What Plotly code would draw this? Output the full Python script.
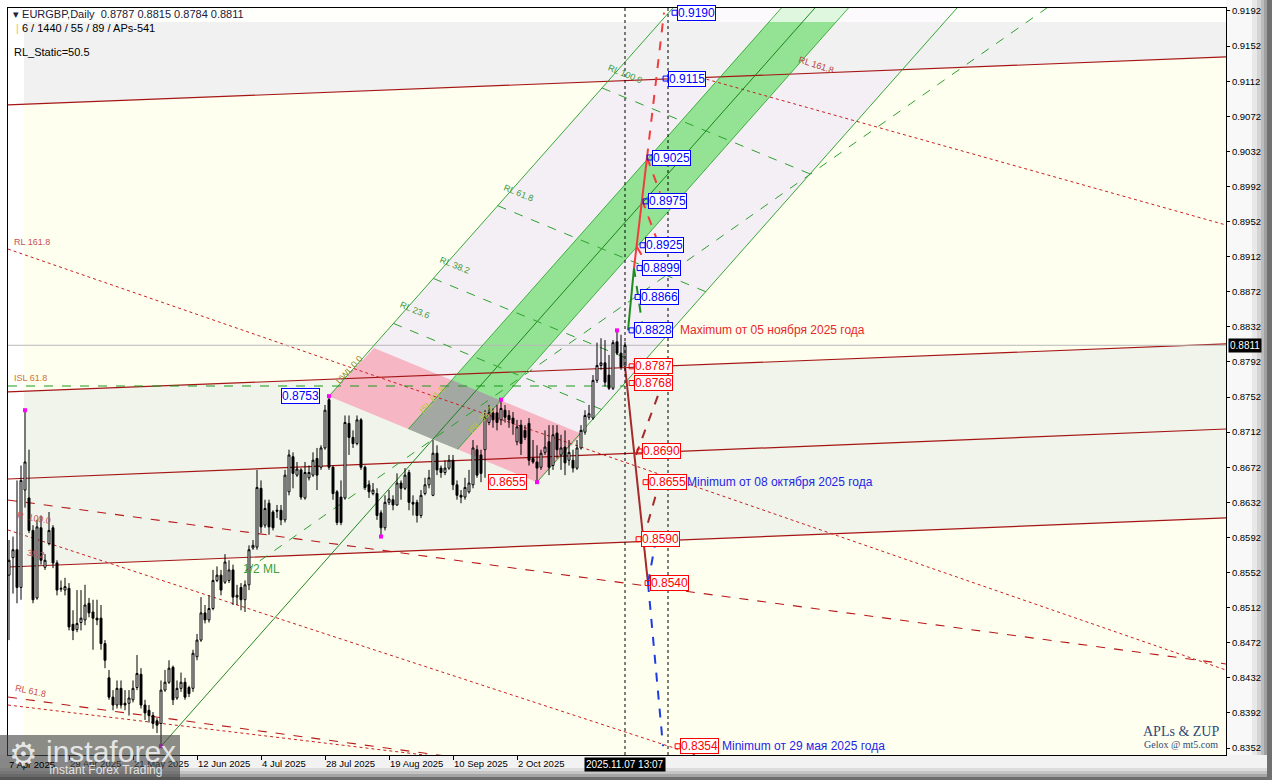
import plotly.graph_objects as go

# ---------------- candle data (EURGBP daily, bar index 0 = first visible bar) -------------
opens = [0.8549,0.8569,0.8578,0.8535,0.8646,0.8637,0.8600,0.8523,0.8603,0.8558,
         0.8585,0.8603,0.8563,0.8533,0.8532,0.8534,0.8493,0.8487,0.8495,0.8498,
         0.8517,0.8507,0.8500,0.8500,0.8471,0.8432,0.8410,0.8401,0.8420,0.8403,
         0.8403,0.8407,0.8421,0.8436,0.8401,0.8395,0.8389,0.8383,0.8380,0.8418,
         0.8427,0.8444,0.8409,0.8420,0.8427,0.8421,0.8420,0.8456,0.8475,0.8506,
         0.8498,0.8511,0.8543,0.8549,0.8541,0.8543,0.8555,0.8524,0.8535,0.8521,
         0.8538,0.8580,0.8581,0.8648,0.8606,0.8631,0.8621,0.8623,0.8623,0.8612,
         0.8644,0.8684,0.8663,0.8669,0.8637,0.8660,0.8663,0.8682,0.8672,0.8694,
         0.8749,0.8672,0.8644,0.8638,0.8637,0.8722,0.8706,0.8699,0.8726,0.8672,
         0.8652,0.8642,0.8642,0.8620,0.8603,0.8632,0.8635,0.8629,0.8654,0.8648,
         0.8666,0.8632,0.8632,0.8617,0.8642,0.8652,0.8640,0.8688,0.8671,0.8666,
         0.8671,0.8680,0.8652,0.8640,0.8638,0.8644,0.8652,0.8692,0.8686,0.8692,
         0.8723,0.8734,0.8734,0.8726,0.8737,0.8731,0.8728,0.8701,0.8720,0.8714,
         0.8722,0.8682,0.8678,0.8672,0.8689,0.8701,0.8674,0.8711,0.8686,0.8695,
         0.8680,0.8680,0.8671,0.8694,0.8712,0.8729,0.8728,0.8771,0.8788,0.8791,
         0.8777,0.8762,0.8815,0.8802,0.8787]
highs = [0.8589,0.8593,0.8657,0.8674,0.8737,0.8692,0.8606,0.8612,0.8617,0.8573,
         0.8621,0.8606,0.8566,0.8543,0.8546,0.8540,0.8509,0.8532,0.8532,0.8538,
         0.8523,0.8521,0.8521,0.8515,0.8475,0.8441,0.8418,0.8429,0.8429,0.8418,
         0.8418,0.8429,0.8458,0.8443,0.8407,0.8401,0.8393,0.8386,0.8429,0.8441,
         0.8452,0.8446,0.8429,0.8438,0.8432,0.8423,0.8464,0.8482,0.8524,0.8515,
         0.8526,0.8555,0.8559,0.8555,0.8573,0.8566,0.8561,0.8538,0.8540,0.8543,
         0.8583,0.8589,0.8669,0.8657,0.8635,0.8635,0.8623,0.8629,0.8629,0.8669,
         0.8692,0.8689,0.8678,0.8671,0.8678,0.8674,0.8689,0.8694,0.8697,0.8743,
         0.8753,0.8674,0.8646,0.8657,0.8731,0.8731,0.8714,0.8731,0.8728,0.8674,
         0.8657,0.8654,0.8648,0.8623,0.8640,0.8646,0.8640,0.8665,0.8657,0.8671,
         0.8669,0.8640,0.8635,0.8646,0.8660,0.8669,0.8703,0.8697,0.8674,0.8680,
         0.8686,0.8686,0.8657,0.8646,0.8660,0.8669,0.8703,0.8697,0.8692,0.8737,
         0.8743,0.8739,0.8743,0.8749,0.8743,0.8737,0.8735,0.8726,0.8726,0.8720,
         0.8728,0.8703,0.8697,0.8692,0.8714,0.8720,0.8720,0.8720,0.8709,0.8714,
         0.8703,0.8692,0.8703,0.8720,0.8737,0.8743,0.8777,0.8814,0.8819,0.8817,
         0.8800,0.8817,0.8828,0.8823,0.8815]
lows = [0.8475,0.8528,0.8517,0.8521,0.8626,0.8597,0.8517,0.8521,0.8561,0.8555,
        0.8583,0.8557,0.8526,0.8530,0.8526,0.8486,0.8475,0.8484,0.8486,0.8492,
        0.8501,0.8464,0.8492,0.8464,0.8443,0.8407,0.8395,0.8397,0.8397,0.8395,
        0.8389,0.8404,0.8418,0.8397,0.8384,0.8381,0.8374,0.8369,0.8354,0.8416,
        0.8425,0.8401,0.8407,0.8416,0.8407,0.8410,0.8416,0.8452,0.8473,0.8494,
        0.8495,0.8509,0.8541,0.8526,0.8539,0.8540,0.8515,0.8515,0.8509,0.8507,
        0.8532,0.8578,0.8578,0.8597,0.8603,0.8595,0.8600,0.8614,0.8606,0.8609,
        0.8640,0.8648,0.8661,0.8635,0.8635,0.8657,0.8661,0.8646,0.8669,0.8692,
        0.8669,0.8635,0.8606,0.8606,0.8635,0.8686,0.8694,0.8697,0.8669,0.8646,
        0.8637,0.8640,0.8612,0.8593,0.8600,0.8629,0.8623,0.8628,0.8635,0.8646,
        0.8623,0.8617,0.8609,0.8614,0.8640,0.8648,0.8639,0.8663,0.8660,0.8663,
        0.8669,0.8646,0.8635,0.8631,0.8635,0.8642,0.8648,0.8660,0.8655,0.8660,
        0.8720,0.8717,0.8714,0.8720,0.8723,0.8717,0.8709,0.8697,0.8686,0.8703,
        0.8674,0.8676,0.8655,0.8669,0.8686,0.8663,0.8669,0.8682,0.8669,0.8663,
        0.8674,0.8666,0.8669,0.8692,0.8709,0.8726,0.8726,0.8768,0.8783,0.8764,
        0.8760,0.8760,0.8800,0.8783,0.8784]
closes = [0.8566,0.8578,0.8535,0.8657,0.8678,0.8600,0.8521,0.8604,0.8566,0.8566,
          0.8600,0.8563,0.8532,0.8534,0.8536,0.8490,0.8486,0.8494,0.8500,0.8515,
          0.8506,0.8500,0.8498,0.8471,0.8452,0.8410,0.8401,0.8420,0.8401,0.8401,
          0.8409,0.8420,0.8437,0.8401,0.8392,0.8389,0.8380,0.8378,0.8418,0.8427,
          0.8443,0.8407,0.8420,0.8427,0.8410,0.8414,0.8460,0.8475,0.8506,0.8498,
          0.8511,0.8543,0.8549,0.8532,0.8564,0.8555,0.8524,0.8526,0.8521,0.8538,
          0.8578,0.8583,0.8649,0.8604,0.8625,0.8604,0.8603,0.8622,0.8612,0.8663,
          0.8686,0.8665,0.8670,0.8638,0.8666,0.8666,0.8680,0.8663,0.8694,0.8737,
          0.8672,0.8642,0.8609,0.8609,0.8723,0.8706,0.8699,0.8726,0.8672,0.8649,
          0.8644,0.8646,0.8617,0.8603,0.8632,0.8636,0.8629,0.8654,0.8648,0.8663,
          0.8632,0.8630,0.8617,0.8640,0.8652,0.8660,0.8688,0.8669,0.8666,0.8671,
          0.8680,0.8652,0.8640,0.8638,0.8649,0.8654,0.8694,0.8663,0.8665,0.8729,
          0.8734,0.8726,0.8723,0.8739,0.8729,0.8726,0.8722,0.8718,0.8699,0.8706,
          0.8680,0.8678,0.8671,0.8688,0.8695,0.8672,0.8709,0.8692,0.8694,0.8677,
          0.8689,0.8671,0.8694,0.8714,0.8731,0.8733,0.8771,0.8788,0.8791,0.8769,
          0.8762,0.8814,0.8802,0.8786,0.8811]

x_tick_index = [15, 31, 47, 63, 79, 95, 111, 127]
x_tick_text = ["29 Apr 2025", "21 May 2025", "12 Jun 2025", "4 Jul 2025", "28 Jul 2025",
               "19 Aug 2025", "10 Sep 2025", "2 Oct 2025"]
first_label = "7 Apr 2025"
y_tick_vals = [0.8352, 0.8392, 0.8432, 0.8472, 0.8512, 0.8552, 0.8592, 0.8632, 0.8672, 0.8712,
               0.8752, 0.8792, 0.8832, 0.8872, 0.8912, 0.8952, 0.8992, 0.9032, 0.9072, 0.9112,
               0.9152, 0.9192]
last_price = 0.8811
last_bar_label = "2025.11.07 13:07"

# pitchfork pivots (bar index, price)
pivot_A = (38, 0.8354)
pivot_B = (80, 0.8753)
pivot_C = (132, 0.8655)
rl_levels = [0.236, 0.382, 0.618, 1.0]
rl_names = ["RL 23.6", "RL 38.2", "RL 61.8", "RL 100.0"]
band_levels = [0.382, 0.618]
pink_shift = (11.25, 0.0055)

# slanted red channel (price at left edge / right edge)
red_left = [0.90849, 0.87578, 0.86586, 0.85583]
red_right = [0.91396, 0.88125, 0.87156, 0.86142]

# forecast (ZUP) levels
blue_levels = [0.9190, 0.9115, 0.9025, 0.8975, 0.8925, 0.8899, 0.8866, 0.8828]
blue_pos = [167.0, 164.75, 160.75, 159.75, 159.0, 158.25, 157.75, 156.25]
red_levels = [0.8787, 0.8768, 0.8690, 0.8655, 0.8590, 0.8540, 0.8354]
red_pos = [156.25, 156.25, 158.25, 159.75, 158.0, 160.25, 167.75]

X0, X1 = -0.25, 304.25
Y0, Y1 = 0.834405, 0.91954
ZONE_X0 = 3.75
ZONE_TOP = 0.91795

fig = go.Figure()
shapes = []


def sline(p, q, color, width=1.0, dash="solid"):
    shapes.append(dict(type="line", xref="x", yref="y", x0=p[0], y0=p[1], x1=q[0], y1=q[1],
                       line=dict(color=color, width=width, dash=dash), layer="below"))


def spoly(pts, color):
    path = "M " + " L ".join(f"{p[0]:.4f},{p[1]:.6f}" for p in pts) + " Z"
    shapes.append(dict(type="path", xref="x", yref="y", path=path, fillcolor=color,
                       line=dict(width=0), layer="below"))


def tline(p, q, color, width=1.0, dash="solid"):
    fig.add_trace(go.Scatter(x=[p[0], q[0]], y=[p[1], q[1]], mode="lines",
                             line=dict(color=color, width=width, dash=dash),
                             hoverinfo="skip", showlegend=False))


def add(p, q, k=1.0):
    return (p[0] + k * q[0], p[1] + k * q[1])


def sub(p, q):
    return (p[0] - q[0], p[1] - q[1])


def clip(subject, clipper):
    def inside(p, a, b):
        return (b[0] - a[0]) * (p[1] - a[1]) - (b[1] - a[1]) * (p[0] - a[0]) >= 0

    def inter(p1, p2, a, b):
        x1, y1 = p1; x2, y2 = p2; x3, y3 = a; x4, y4 = b
        d = (x1 - x2) * (y3 - y4) - (y1 - y2) * (x3 - x4)
        t = ((x1 - x3) * (y3 - y4) - (y1 - y3) * (x3 - x4)) / d
        return (x1 + t * (x2 - x1), y1 + t * (y2 - y1))

    out = subject
    for i in range(len(clipper)):
        a, b = clipper[i], clipper[(i + 1) % len(clipper)]
        inp, out = out, []
        for j in range(len(inp)):
            cur, prev = inp[j], inp[j - 1]
            if inside(cur, a, b):
                if not inside(prev, a, b):
                    out.append(inter(prev, cur, a, b))
                out.append(cur)
            elif inside(prev, a, b):
                out.append(inter(prev, cur, a, b))
    return out


def orient_ccw(pts):
    area = sum(pts[i][0] * pts[(i + 1) % len(pts)][1] - pts[(i + 1) % len(pts)][0] * pts[i][1]
               for i in range(len(pts)))
    return pts if area > 0 else pts[::-1]


def red_at(k, x):
    return red_left[k] + (red_right[k] - red_left[k]) * (x - X0) / (X1 - X0)


# pitchfork geometry
mid = ((pivot_B[0] + pivot_C[0]) / 2, (pivot_B[1] + pivot_C[1]) / 2)
mid_ab = ((pivot_A[0] + pivot_B[0]) / 2, (pivot_A[1] + pivot_B[1]) / 2)
slope = (mid[1] - pivot_A[1]) / (mid[0] - pivot_A[0])
d_fork = (1.0, slope)
d_half = (1.0, (mid[1] - mid_ab[1]) / (mid[0] - mid_ab[0]))
U = (68.25, 68.25 * slope)
BC = sub(pivot_C, pivot_B)
FAR = 200

# ---------------- background zones ----------------
spoly([(ZONE_X0, red_at(1, ZONE_X0)), (X1, red_at(1, X1)), (X1, red_at(3, X1)), (ZONE_X0, red_at(3, ZONE_X0))], "#F0F4EA")
spoly([pivot_B, add(pivot_B, d_fork, FAR), add(pivot_C, d_fork, FAR), pivot_C], "#F4EFF5")
spoly([(ZONE_X0, red_at(0, ZONE_X0)), (X1, red_at(0, X1)), (X1, ZONE_TOP), (ZONE_X0, ZONE_TOP)], "#F1F1F1")
spoly([(X0, Y0), (ZONE_X0, Y0), (ZONE_X0, Y1), (X0, Y1)], "#FFFFFF")

pink = [pivot_B, pivot_C, add(pivot_C, pink_shift), add(pivot_B, pink_shift)]
P38 = add(pivot_B, BC, band_levels[0])
P62 = add(pivot_B, BC, band_levels[1])
band = [P38, P62, add(P62, d_fork, 130), add(P38, d_fork, 130)]
spoly(pink, "#F6B6C4")
spoly(band, "#94E394")
spoly(clip(orient_ccw(pink), orient_ccw(band)), "#A3A8A3")
spoly([(X0, ZONE_TOP), (X1, ZONE_TOP), (X1, Y1), (X0, Y1)], "rgba(255,255,255,0.7)")

# ---------------- red slanted lines ----------------
for k in range(4):
    sline((X0, red_left[k]), (X1, red_right[k]), "#A51515", 1.2)
sline((X0, 0.86347), (X1, 0.84478), "#B81818", 1.1, "dash")
sline((X0, 0.84101), (X1, 0.82232), "#B81818", 1.1, "dash")
sline((X0, 0.89207), (X1, 0.84409), "#C82020", 1.0, "dot")
sline((X0, 0.86005), (X1, 0.81462), "#C82020", 1.0, "dot")
sline((X0, 0.84010), (X1, 0.82344), "#C82020", 1.0, "dot")
sline((171.5, 0.91179), (X1, 0.89481), "#C82020", 1.0, "dot")

sline((X0, 0.87646), (154, 0.87646), "#1A9A1A", 1.2, "dash")
sline((X0, last_price), (X1, last_price), "#B8B8B8", 1.0)

# ---------------- pitchfork ----------------
sline(pivot_A, add(pivot_A, d_fork, FAR), "#0A7A0A", 0.9)
sline(pivot_B, add(pivot_B, d_fork, FAR), "#1E9E1E", 0.9)
sline(pivot_C, add(pivot_C, d_fork, FAR), "#1E9E1E", 0.9)
for lv in band_levels:
    P = add(pivot_B, BC, lv)
    sline(P, add(P, d_fork, FAR), "#1E9E1E", 0.8)
for lv in rl_levels:
    P = add(pivot_B, U, lv)
    sline(P, add(P, BC), "#2EA02E", 1.0, "dash")
sline(mid_ab, add(mid_ab, d_half, 260), "#2EA02E", 1.0, "dash")

# ---------------- candles ----------------
fig.add_trace(go.Candlestick(
    x=list(range(len(opens))), open=opens, high=highs, low=lows, close=closes,
    increasing=dict(line=dict(color="black", width=1), fillcolor="white"),
    decreasing=dict(line=dict(color="black", width=1), fillcolor="black"),
    whiskerwidth=0, hoverinfo="skip", showlegend=False))

piv_x = [4, pivot_A[0], pivot_B[0], 93, 123, pivot_C[0], 152]
piv_y = [0.8737, pivot_A[1], pivot_B[1], 0.8593, 0.8749, pivot_C[1], 0.8828]
fig.add_trace(go.Scatter(x=piv_x, y=piv_y, mode="markers",
                         marker=dict(symbol="square", size=4, color="#FF00FF"),
                         hoverinfo="skip", showlegend=False))

# ---------------- forecast zigzags ----------------
segs = [
    ((154.75, 0.8828), (156.25, 0.8899), "#1E8C1E", 2.0, "solid"),
    ((156.25, 0.8899), (158.25, 0.8837), "#1E8C1E", 2.0, "dash"),
    ((156.25, 0.8899), (159.5, 0.9025), "#F03C3C", 2.0, "solid"),
    ((159.5, 0.9025), (163.75, 0.9190), "#F03C3C", 2.0, "dash"),
    ((159.5, 0.9025), (162.75, 0.8985), "#F03C3C", 2.0, "dash"),
    ((158.25, 0.8977), (162.0, 0.8931), "#F03C3C", 2.0, "dash"),
    ((157.0, 0.8923), (159.25, 0.8905), "#F03C3C", 2.0, "dash"),
    ((154.0, 0.8787), (159.75, 0.8540), "#A52A2A", 2.0, "solid"),
    ((156.75, 0.8686), (162.75, 0.8760), "#A52A2A", 2.0, "dash"),
    ((158.5, 0.8589), (162.75, 0.8657), "#A52A2A", 2.0, "dash"),
    ((159.75, 0.8540), (163.5, 0.8354), "#1E3CE6", 2.0, "dash"),
    ((159.75, 0.8540), (161.75, 0.8590), "#1E3CE6", 2.0, "dash"),
]
for p, q, c, w, d in segs:
    tline(p, q, c, w, d)
for xv in [154, 164.75]:
    tline((xv, Y0), (xv, Y1), "black", 1.0, "3px,3px")

fig.add_trace(go.Scatter(x=[p - 0.6 for p in blue_pos], y=blue_levels, mode="markers",
                         marker=dict(symbol="square-open", size=5, color="#0000FF"),
                         hoverinfo="skip", showlegend=False))
fig.add_trace(go.Scatter(x=[p - 0.6 for p in red_pos], y=red_levels, mode="markers",
                         marker=dict(symbol="square-open", size=5, color="#FF0000"),
                         hoverinfo="skip", showlegend=False))

ann = []
FONT = "Liberation Sans"
for xv, yv in zip(blue_pos, blue_levels):
    ann.append(dict(x=xv, y=yv, text=f"{yv:.4f}", xanchor="left", yanchor="middle", showarrow=False,
                    font=dict(family=FONT, size=12, color="#0000FF"), bgcolor="white",
                    bordercolor="#0000FF", borderwidth=1, borderpad=0))
for xv, yv in zip(red_pos, red_levels):
    ann.append(dict(x=xv, y=yv, text=f"{yv:.4f}", xanchor="left", yanchor="middle", showarrow=False,
                    font=dict(family=FONT, size=12, color="#FF0000"), bgcolor="white",
                    bordercolor="#FF0000", borderwidth=1, borderpad=0))
ann.append(dict(x=77.75, y=pivot_B[1], text=f"{pivot_B[1]:.4f}", xanchor="right", yanchor="middle",
                showarrow=False, font=dict(family=FONT, size=12, color="#0000FF"), bgcolor="white",
                bordercolor="#0000FF", borderwidth=1, borderpad=0))
ann.append(dict(x=129.5, y=pivot_C[1], text=f"{pivot_C[1]:.4f}", xanchor="right", yanchor="middle",
                showarrow=False, font=dict(family=FONT, size=12, color="#FF0000"), bgcolor="white",
                bordercolor="#FF0000", borderwidth=1, borderpad=0))

ann.append(dict(x=167.25, y=0.8828, text="Maximum от 05 ноября 2025 года", xanchor="left",
                yanchor="middle", showarrow=False, font=dict(family=FONT, size=12, color="#E82828")))
ann.append(dict(x=169.0, y=0.8655, text="Minimum от 08 октября 2025 года", xanchor="left",
                yanchor="middle", showarrow=False, font=dict(family=FONT, size=12, color="#2424E8")))
ann.append(dict(x=177.75, y=0.8354, text="Minimum от 29 мая 2025 года", xanchor="left",
                yanchor="middle", showarrow=False, font=dict(family=FONT, size=12, color="#2424E8")))

for lv, nm in zip(rl_levels, rl_names):
    P = add(pivot_B, U, lv)
    ann.append(dict(x=P[0] + 0.5, y=P[1], text=nm, xanchor="left", yanchor="bottom", showarrow=False,
                    textangle=22, font=dict(family=FONT, size=9, color="#3A9A3A")))
ann.append(dict(x=pivot_B[0] + 0.5, y=pivot_B[1] + 0.0008, text="UWL 0.0", xanchor="left", yanchor="bottom",
                showarrow=False, textangle=-48, font=dict(family=FONT, size=9, color="#8A8A2A")))
for lv, nm in zip(band_levels, ["ISL 61.8", "ISL 38.2"]):
    P = add(pivot_B, BC, lv)
    ann.append(dict(x=P[0] + 1.5, y=P[1] + 0.0012, text=nm, xanchor="left", yanchor="bottom",
                    showarrow=False, textangle=-48, font=dict(family=FONT, size=9, color="#B8C838")))
ann.append(dict(x=58.0, y=0.8556, text="1/2 ML", xanchor="left", yanchor="middle", showarrow=False,
                font=dict(family=FONT, size=12, color="#3CA03C")))
ann.append(dict(x=X0 + 1.0, y=0.89207, text="RL 161.8", xanchor="left", yanchor="bottom", showarrow=False,
                font=dict(family=FONT, size=9, color="#C85050")))
ann.append(dict(x=X0 + 1.0, y=0.8766, text="ISL 61.8", xanchor="left", yanchor="bottom", showarrow=False,
                font=dict(family=FONT, size=9, color="#D07030")))
ann.append(dict(x=X0 + 1.0, y=0.8405, text="RL 61.8", xanchor="left", yanchor="bottom", showarrow=False,
                textangle=12, font=dict(family=FONT, size=9, color="#C85050")))
ann.append(dict(x=X0 + 1.5, y=0.8603, text="R  100.0", xanchor="left", yanchor="bottom", showarrow=False,
                textangle=10, font=dict(family=FONT, size=9, color="#C85050")))
ann.append(dict(x=X0 + 4.0, y=0.8563, text="38.2", xanchor="left", yanchor="bottom", showarrow=False,
                textangle=10, font=dict(family=FONT, size=9, color="#C85050")))
ann.append(dict(x=196.5, y=0.9130, text="RL 161.8", xanchor="left", yanchor="middle", showarrow=False,
                textangle=18, font=dict(family=FONT, size=9, color="#B84040")))


def px(xp):
    return (xp - 8) / 1218.0


def py(yp):
    return (755 - yp) / 747.0


ann.append(dict(xref="paper", yref="paper", x=px(11), y=py(14), xanchor="left", yanchor="middle",
                showarrow=False, text="▾ EURGBP,Daily  0.8787 0.8815 0.8784 0.8811",
                font=dict(family=FONT, size=11, color="#202040")))
ann.append(dict(xref="paper", yref="paper", x=px(14), y=py(28), xanchor="left", yanchor="middle",
                showarrow=False, text="<span style='color:#F0C040'>|</span> 6 / 1440 / 55 / 89 / APs-541",
                font=dict(family=FONT, size=11, color="black")))
ann.append(dict(xref="paper", yref="paper", x=px(12), y=py(52), xanchor="left", yanchor="middle",
                showarrow=False, text="RL_Static=50.5", font=dict(family=FONT, size=11, color="black")))

ann.append(dict(xref="paper", y=last_price, x=1.0, xanchor="left", yanchor="middle", showarrow=False,
                text=f"{last_price:.4f}", font=dict(family=FONT, size=10, color="white"),
                bgcolor="black", borderpad=1, xshift=2))
ann.append(dict(x=154, yref="paper", y=py(764), xanchor="center", yanchor="middle", showarrow=False,
                text=last_bar_label, font=dict(family=FONT, size=10, color="white"), bgcolor="black",
                borderpad=1))
ann.append(dict(xref="paper", yref="paper", x=px(7), y=py(764), xanchor="left", yanchor="middle",
                showarrow=False, text=first_label, font=dict(family=FONT, size=9.5, color="black")))

ann.append(dict(xref="paper", yref="paper", x=px(1181), y=py(731), xanchor="center", yanchor="middle",
                showarrow=False, text="APLs & ZUP", font=dict(family="Liberation Serif", size=14, color="#2E4A78")))
ann.append(dict(xref="paper", yref="paper", x=px(1181), y=py(744), xanchor="center", yanchor="middle",
                showarrow=False, text="Gelox @ mt5.com", font=dict(family="Liberation Serif", size=10, color="#2E4A78")))

ann.append(dict(xref="paper", yref="paper", x=px(23), y=py(754), xanchor="center", yanchor="middle",
                showarrow=False, text="⚙", font=dict(family="DejaVu Sans", size=32, color="rgba(255,255,255,0.8)")))
ann.append(dict(xref="paper", yref="paper", x=px(44), y=py(751), xanchor="left", yanchor="middle",
                showarrow=False, text="instaforex", font=dict(family="Liberation Sans", size=30, color="rgba(255,255,255,0.8)")))
ann.append(dict(xref="paper", yref="paper", x=px(47), y=py(770), xanchor="left", yanchor="middle",
                showarrow=False, text="Instant Forex Trading", font=dict(family="Liberation Sans", size=12, color="rgba(255,255,255,0.8)")))

for xa, xb, col in [(1226, 1252, "#F8F8F8"), (1252, 1257, "#E8E8E8"), (1257, 1261, "#D4D4D4"),
                    (1261, 1264, "#BCBCBC"), (1264, 1267, "#A0A0A0"), (1267, 1272, "#707070")]:
    shapes.append(dict(type="rect", xref="paper", yref="paper", x0=px(xa), x1=px(xb), y0=py(780), y1=py(0),
                       fillcolor=col, line=dict(width=0), layer="below"))
for ya, yb, col in [(755, 768, "#F2F2F2"), (768, 771, "#DCDCDC"), (771, 774, "#C4C4C4"),
                    (774, 777, "#A4A4A4"), (777, 780, "#6E6E6E")]:
    shapes.append(dict(type="rect", xref="paper", yref="paper", x0=px(0), x1=px(1267), y0=py(yb), y1=py(ya),
                       fillcolor=col, line=dict(width=0), layer="below"))
shapes.append(dict(type="rect", xref="paper", yref="paper", x0=px(0), x1=px(180), y0=py(780), y1=py(735),
                   fillcolor="rgba(70,70,70,0.62)", line=dict(width=0), layer="above"))

fig.update_layout(
    width=1272, height=780,
    margin=dict(l=8, r=46, t=8, b=25),
    paper_bgcolor="white", plot_bgcolor="#FFFFF0",
    showlegend=False, annotations=ann, shapes=shapes,
    xaxis=dict(range=[X0, X1], showgrid=False, zeroline=False, tickmode="array",
               tickvals=x_tick_index, ticktext=x_tick_text, ticks="outside", ticklen=4,
               tickcolor="black", ticklabelposition="outside right", tickangle=0, automargin=False,
               tickfont=dict(family=FONT, size=9.5, color="black"),
               showline=True, linecolor="black", mirror=True, rangeslider=dict(visible=False)),
    yaxis=dict(range=[Y0, Y1], side="right", showgrid=False, zeroline=False, tickmode="array",
               tickvals=y_tick_vals, ticktext=[f"{v:.4f}" for v in y_tick_vals], ticks="outside",
               ticklen=3, tickcolor="black", automargin=False,
               tickfont=dict(family=FONT, size=9.5, color="black"),
               showline=True, linecolor="black", mirror=True),
)

fig.write_html("out.html", config={"displayModeBar": False},
               post_script="document.body.style.margin='0px';document.body.style.overflow='hidden';")
